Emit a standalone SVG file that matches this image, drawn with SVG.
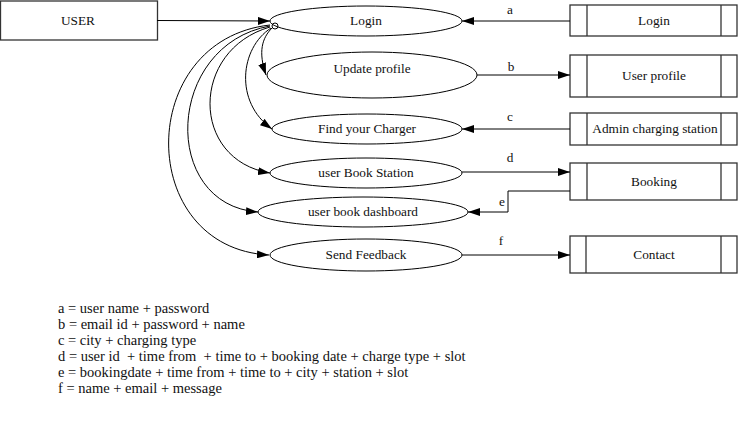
<svg xmlns="http://www.w3.org/2000/svg" width="739" height="444" viewBox="0 0 739 444" font-family="'Liberation Serif', 'Times New Roman', Times, 'DejaVu Serif', serif">
<style>
text{font-family:'Liberation Serif','Times New Roman',Times,'DejaVu Serif',serif;font-size:13.3px;fill:#111;white-space:pre}
.n text{text-anchor:middle}
#legend text{font-size:14.5px}
.ent{fill:#fff;stroke:#333;stroke-width:1.3}
.proc{fill:#fff;stroke:#000;stroke-width:1}
.edge{fill:none;stroke:#000;stroke-width:1}
.lab{text-anchor:middle}
</style>
<defs>
<marker id="ah" markerWidth="12" markerHeight="8" refX="12" refY="4" orient="auto" markerUnits="userSpaceOnUse">
<path d="M0,0 L12,4 L0,8 z" fill="#000"/>
</marker>
</defs>
<rect width="739" height="444" fill="#fff"/>
<g id="user" class="n"><rect class="ent" x="0.5" y="1" width="157" height="39"/><text x="78" y="25">USER</text></g>
<g id="p-login" class="n"><ellipse class="proc" cx="366" cy="21" rx="96" ry="15"/><text x="366" y="25">Login</text></g>
<g id="p-update" class="n"><ellipse class="proc" cx="372" cy="75" rx="105" ry="23"/><text x="372" y="73">Update profile</text></g>
<g id="p-find" class="n"><ellipse class="proc" cx="367" cy="129" rx="95" ry="15"/><text x="367" y="133">Find your Charger</text></g>
<g id="p-book" class="n"><ellipse class="proc" cx="366" cy="173" rx="96" ry="15"/><text x="366" y="177">user Book Station</text></g>
<g id="p-dash" class="n"><ellipse class="proc" cx="363" cy="212" rx="105" ry="15"/><text x="363" y="216">user book dashboard</text></g>
<g id="p-feed" class="n"><ellipse class="proc" cx="366" cy="255" rx="96" ry="16"/><text x="366" y="259">Send Feedback</text></g>
<g id="d-login" class="n"><rect class="ent" x="570" y="5" width="167" height="31"/><line class="ent" x1="587" y1="5" x2="587" y2="36"/><line class="ent" x1="721" y1="5" x2="721" y2="36"/><text x="654" y="25">Login</text></g>
<g id="d-profile" class="n"><rect class="ent" x="570" y="55" width="167" height="42"/><line class="ent" x1="587" y1="55" x2="587" y2="97"/><line class="ent" x1="721" y1="55" x2="721" y2="97"/><text x="654" y="80">User profile</text></g>
<g id="d-admin" class="n"><rect class="ent" x="570" y="113" width="167" height="32"/><line class="ent" x1="587" y1="113" x2="587" y2="145"/><line class="ent" x1="721" y1="113" x2="721" y2="145"/><text x="655" y="133">Admin charging station</text></g>
<g id="d-booking" class="n"><rect class="ent" x="570" y="163" width="167" height="37"/><line class="ent" x1="587" y1="163" x2="587" y2="200"/><line class="ent" x1="721" y1="163" x2="721" y2="200"/><text x="654" y="186">Booking</text></g>
<g id="d-contact" class="n"><rect class="ent" x="570" y="236" width="167" height="37"/><line class="ent" x1="586" y1="236" x2="586" y2="273"/><line class="ent" x1="721" y1="236" x2="721" y2="273"/><text x="654" y="259">Contact</text></g>
<g id="connectors">
<path class="edge" d="M157,20.5 L270,21" marker-end="url(#ah)"/>
<path class="edge" d="M570,21 L462,21" marker-end="url(#ah)"/>
<text class="lab" x="510" y="14">a</text>
<path class="edge" d="M477,75 L570,75" marker-end="url(#ah)"/>
<text class="lab" x="511" y="71">b</text>
<path class="edge" d="M570,129 L462,129" marker-end="url(#ah)"/>
<text class="lab" x="510" y="121">c</text>
<path class="edge" d="M462,172 L570,172" marker-end="url(#ah)"/>
<text class="lab" x="510" y="162">d</text>
<path class="edge" d="M570,191 L508,191 L508,212 L468,212" marker-end="url(#ah)"/>
<text class="lab" x="502" y="206">e</text>
<path class="edge" d="M462,255 L570,255" marker-end="url(#ah)"/>
<text class="lab" x="501" y="245">f</text>
<circle class="edge" cx="275" cy="26" r="3"/>
<path class="edge" d="M272,28 C262,38 258,52 266,75" marker-end="url(#ah)"/>
<path class="edge" d="M271,28 C240,48 234,102 272,129" marker-end="url(#ah)"/>
<path class="edge" d="M270,27 C190,50 190,160 270,173" marker-end="url(#ah)"/>
<path class="edge" d="M270,26 C165,45 160,205 258,212" marker-end="url(#ah)"/>
<path class="edge" d="M270,25 C135,40 135,248 269,255" marker-end="url(#ah)"/>
</g>
<g id="legend">
<text x="58" y="313">a = user name + password</text>
<text x="58" y="329">b = email id + password + name</text>
<text x="58" y="345">c = city + charging type</text>
<text x="58" y="361">d = user id  + time from  + time to + booking date + charge type + slot</text>
<text x="58" y="377">e = bookingdate + time from + time to + city + station + slot</text>
<text x="58" y="393">f = name + email + message</text>
</g>
</svg>
